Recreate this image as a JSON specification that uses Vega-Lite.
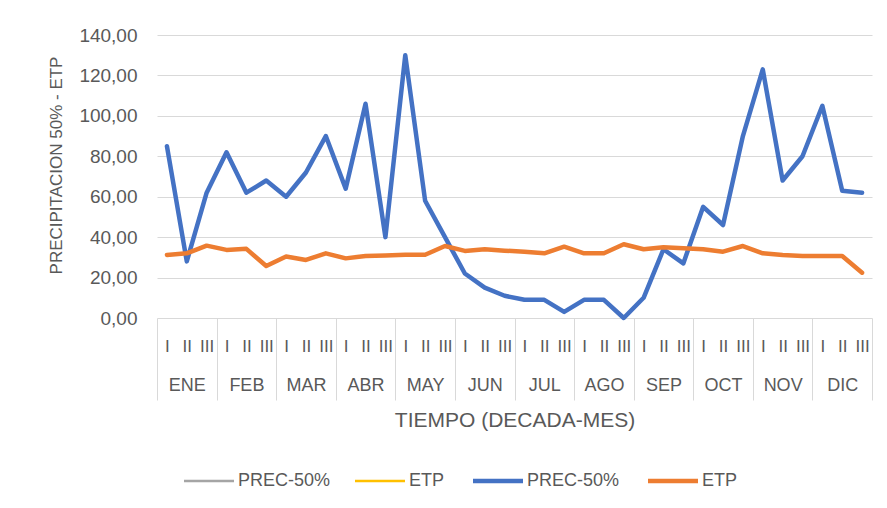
{
  "$schema": "https://vega.github.io/schema/vega-lite/v6.json",
  "width": 715,
  "height": 283,
  "autosize": {"type": "none"},
  "padding": {"left": 157, "top": 35, "right": 15, "bottom": 190},
  "background": "white",
  "config": {
    "view": {"stroke": null},
    "font": "Liberation Sans",
    "axis": {"labelColor": "#595959", "titleColor": "#595959", "titleFontWeight": "normal", "labelFont": "Liberation Sans", "titleFont": "Liberation Sans"}
  },
  "data": {
    "values": [
      {"orden": 1, "mes": "ENE", "decada": "I", "serie": "PREC-50%", "valor": 85},
      {"orden": 2, "mes": "ENE", "decada": "II", "serie": "PREC-50%", "valor": 28},
      {"orden": 3, "mes": "ENE", "decada": "III", "serie": "PREC-50%", "valor": 62},
      {"orden": 4, "mes": "FEB", "decada": "I", "serie": "PREC-50%", "valor": 82},
      {"orden": 5, "mes": "FEB", "decada": "II", "serie": "PREC-50%", "valor": 62},
      {"orden": 6, "mes": "FEB", "decada": "III", "serie": "PREC-50%", "valor": 68},
      {"orden": 7, "mes": "MAR", "decada": "I", "serie": "PREC-50%", "valor": 60},
      {"orden": 8, "mes": "MAR", "decada": "II", "serie": "PREC-50%", "valor": 72},
      {"orden": 9, "mes": "MAR", "decada": "III", "serie": "PREC-50%", "valor": 90},
      {"orden": 10, "mes": "ABR", "decada": "I", "serie": "PREC-50%", "valor": 64},
      {"orden": 11, "mes": "ABR", "decada": "II", "serie": "PREC-50%", "valor": 106},
      {"orden": 12, "mes": "ABR", "decada": "III", "serie": "PREC-50%", "valor": 40},
      {"orden": 13, "mes": "MAY", "decada": "I", "serie": "PREC-50%", "valor": 130},
      {"orden": 14, "mes": "MAY", "decada": "II", "serie": "PREC-50%", "valor": 58},
      {"orden": 15, "mes": "MAY", "decada": "III", "serie": "PREC-50%", "valor": 40},
      {"orden": 16, "mes": "JUN", "decada": "I", "serie": "PREC-50%", "valor": 22},
      {"orden": 17, "mes": "JUN", "decada": "II", "serie": "PREC-50%", "valor": 15},
      {"orden": 18, "mes": "JUN", "decada": "III", "serie": "PREC-50%", "valor": 11},
      {"orden": 19, "mes": "JUL", "decada": "I", "serie": "PREC-50%", "valor": 9},
      {"orden": 20, "mes": "JUL", "decada": "II", "serie": "PREC-50%", "valor": 9},
      {"orden": 21, "mes": "JUL", "decada": "III", "serie": "PREC-50%", "valor": 3},
      {"orden": 22, "mes": "AGO", "decada": "I", "serie": "PREC-50%", "valor": 9},
      {"orden": 23, "mes": "AGO", "decada": "II", "serie": "PREC-50%", "valor": 9},
      {"orden": 24, "mes": "AGO", "decada": "III", "serie": "PREC-50%", "valor": 0},
      {"orden": 25, "mes": "SEP", "decada": "I", "serie": "PREC-50%", "valor": 10},
      {"orden": 26, "mes": "SEP", "decada": "II", "serie": "PREC-50%", "valor": 34},
      {"orden": 27, "mes": "SEP", "decada": "III", "serie": "PREC-50%", "valor": 27},
      {"orden": 28, "mes": "OCT", "decada": "I", "serie": "PREC-50%", "valor": 55},
      {"orden": 29, "mes": "OCT", "decada": "II", "serie": "PREC-50%", "valor": 46},
      {"orden": 30, "mes": "OCT", "decada": "III", "serie": "PREC-50%", "valor": 90},
      {"orden": 31, "mes": "NOV", "decada": "I", "serie": "PREC-50%", "valor": 123},
      {"orden": 32, "mes": "NOV", "decada": "II", "serie": "PREC-50%", "valor": 68},
      {"orden": 33, "mes": "NOV", "decada": "III", "serie": "PREC-50%", "valor": 80},
      {"orden": 34, "mes": "DIC", "decada": "I", "serie": "PREC-50%", "valor": 105},
      {"orden": 35, "mes": "DIC", "decada": "II", "serie": "PREC-50%", "valor": 63},
      {"orden": 36, "mes": "DIC", "decada": "III", "serie": "PREC-50%", "valor": 62},
      {"orden": 1, "mes": "ENE", "decada": "I", "serie": "ETP", "valor": 31.2},
      {"orden": 2, "mes": "ENE", "decada": "II", "serie": "ETP", "valor": 32},
      {"orden": 3, "mes": "ENE", "decada": "III", "serie": "ETP", "valor": 35.8},
      {"orden": 4, "mes": "FEB", "decada": "I", "serie": "ETP", "valor": 33.7},
      {"orden": 5, "mes": "FEB", "decada": "II", "serie": "ETP", "valor": 34.2},
      {"orden": 6, "mes": "FEB", "decada": "III", "serie": "ETP", "valor": 25.7},
      {"orden": 7, "mes": "MAR", "decada": "I", "serie": "ETP", "valor": 30.4},
      {"orden": 8, "mes": "MAR", "decada": "II", "serie": "ETP", "valor": 28.7},
      {"orden": 9, "mes": "MAR", "decada": "III", "serie": "ETP", "valor": 32},
      {"orden": 10, "mes": "ABR", "decada": "I", "serie": "ETP", "valor": 29.5},
      {"orden": 11, "mes": "ABR", "decada": "II", "serie": "ETP", "valor": 30.7},
      {"orden": 12, "mes": "ABR", "decada": "III", "serie": "ETP", "valor": 30.9},
      {"orden": 13, "mes": "MAY", "decada": "I", "serie": "ETP", "valor": 31.3},
      {"orden": 14, "mes": "MAY", "decada": "II", "serie": "ETP", "valor": 31.3},
      {"orden": 15, "mes": "MAY", "decada": "III", "serie": "ETP", "valor": 35.6},
      {"orden": 16, "mes": "JUN", "decada": "I", "serie": "ETP", "valor": 33.2},
      {"orden": 17, "mes": "JUN", "decada": "II", "serie": "ETP", "valor": 34},
      {"orden": 18, "mes": "JUN", "decada": "III", "serie": "ETP", "valor": 33.3},
      {"orden": 19, "mes": "JUL", "decada": "I", "serie": "ETP", "valor": 32.8},
      {"orden": 20, "mes": "JUL", "decada": "II", "serie": "ETP", "valor": 32},
      {"orden": 21, "mes": "JUL", "decada": "III", "serie": "ETP", "valor": 35.3},
      {"orden": 22, "mes": "AGO", "decada": "I", "serie": "ETP", "valor": 32},
      {"orden": 23, "mes": "AGO", "decada": "II", "serie": "ETP", "valor": 32},
      {"orden": 24, "mes": "AGO", "decada": "III", "serie": "ETP", "valor": 36.5},
      {"orden": 25, "mes": "SEP", "decada": "I", "serie": "ETP", "valor": 34},
      {"orden": 26, "mes": "SEP", "decada": "II", "serie": "ETP", "valor": 35},
      {"orden": 27, "mes": "SEP", "decada": "III", "serie": "ETP", "valor": 34.5},
      {"orden": 28, "mes": "OCT", "decada": "I", "serie": "ETP", "valor": 34},
      {"orden": 29, "mes": "OCT", "decada": "II", "serie": "ETP", "valor": 32.8},
      {"orden": 30, "mes": "OCT", "decada": "III", "serie": "ETP", "valor": 35.6},
      {"orden": 31, "mes": "NOV", "decada": "I", "serie": "ETP", "valor": 32},
      {"orden": 32, "mes": "NOV", "decada": "II", "serie": "ETP", "valor": 31.2},
      {"orden": 33, "mes": "NOV", "decada": "III", "serie": "ETP", "valor": 30.7},
      {"orden": 34, "mes": "DIC", "decada": "I", "serie": "ETP", "valor": 30.7},
      {"orden": 35, "mes": "DIC", "decada": "II", "serie": "ETP", "valor": 30.7},
      {"orden": 36, "mes": "DIC", "decada": "III", "serie": "ETP", "valor": 22.4}
    ]
  },
  "layer": [
    {
      "mark": {"type": "line", "strokeWidth": 4.5, "strokeCap": "round", "strokeJoin": "round"},
      "encoding": {
        "x": {
          "field": "orden", "type": "ordinal",
          "scale": {"type": "point", "padding": 0.5},
          "axis": {
            "orient": "bottom", "title": null, "domain": false, "ticks": false, "grid": false,
            "labelAngle": 0, "labelFontSize": 17, "labelPadding": 20, "labelOverlap": false,
            "labelExpr": "['III','I','II'][datum.value % 3]"
          }
        },
        "y": {
          "field": "valor", "type": "quantitative",
          "scale": {"domain": [0, 140], "nice": false},
          "axis": {
            "values": [0, 20, 40, 60, 80, 100, 120, 140],
            "domain": false, "ticks": false, "grid": true, "gridColor": "#d9d9d9", "gridWidth": 1,
            "labelFontSize": 19, "labelPadding": 20,
            "labelExpr": "replace(format(datum.value, '.2f'), '.', ',')",
            "title": "PRECIPITACION 50% - ETP", "titleFontSize": 17, "titlePadding": 13, "titleY": 130
          }
        },
        "color": {
          "field": "serie", "type": "nominal",
          "scale": {
            "domain": ["PREC-50% gris", "ETP amarillo", "PREC-50%", "ETP"],
            "range": ["#a5a5a5", "#ffc000", "#4472c4", "#ed7d31"]
          },
          "legend": {
            "orient": "none", "legendX": 43, "legendY": 437, "direction": "horizontal", "columns": 4,
            "title": null, "symbolType": "stroke", "symbolSize": 2500, "symbolStrokeWidth": 4.5,
            "labelFontSize": 18, "labelColor": "#595959", "labelOffset": 20, "columnPadding": 19, "padding": 0,
            "labelExpr": "split(datum.label, ' ')[0]",
            "encode": {"symbols": {"update": {"strokeWidth": {"signal": "indexof(['PREC-50%', 'ETP'], datum.value) >= 0 ? 4.5 : 2.5"}}}}
          }
        }
      }
    },
    {
      "mark": {"type": "point", "opacity": 0},
      "encoding": {
        "x": {
          "field": "mes", "type": "ordinal",
          "sort": ["ENE", "FEB", "MAR", "ABR", "MAY", "JUN", "JUL", "AGO", "SEP", "OCT", "NOV", "DIC"],
          "scale": {"type": "band", "paddingInner": 0, "paddingOuter": 0},
          "axis": {
            "orient": "bottom", "domain": false, "ticks": true, "tickBand": "extent", "tickSize": 82,
            "tickColor": "#d9d9d9", "tickWidth": 1, "grid": false,
            "labelAngle": 0, "labelFontSize": 18, "labelPadding": -24, "labelOverlap": false,
            "title": "TIEMPO (DECADA-MES)", "titleFontSize": 21, "titlePadding": 9
          }
        },
        "y": {"field": "valor", "type": "quantitative"}
      }
    }
  ],
  "resolve": {"scale": {"x": "independent"}, "axis": {"x": "independent"}}
}
